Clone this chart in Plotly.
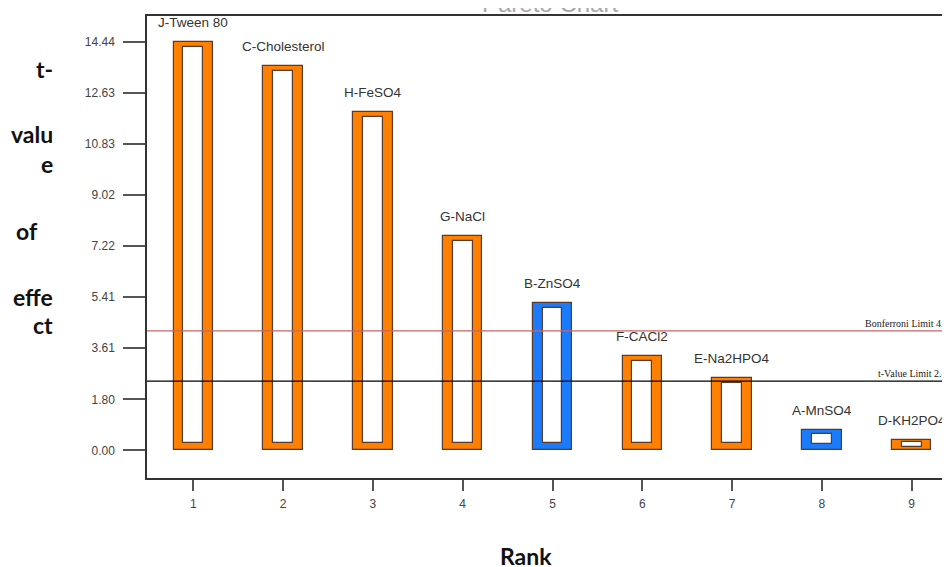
import plotly.graph_objects as go

# ---------------- data ----------------
ranks = [1, 2, 3, 4, 5, 6, 7, 8, 9]
factors = ["J-Tween 80", "C-Cholesterol", "H-FeSO4", "G-NaCl", "B-ZnSO4",
           "F-CACl2", "E-Na2HPO4", "A-MnSO4", "D-KH2PO4"]
t_values = [14.44, 13.59, 11.95, 7.59, 5.22, 3.32, 2.57, 0.73, 0.35]
effect_sign = ["+", "+", "+", "+", "-", "+", "+", "-", "+"]
y_tick_vals = [0.00, 1.80, 3.61, 5.41, 7.22, 9.02, 10.83, 12.63, 14.44]
y_tick_text = ["0.00", "1.80", "3.61", "5.41", "7.22", "9.02", "10.83", "12.63", "14.44"]
bonferroni_limit = 4.22066
t_value_limit = 2.44691
title_text = "Pareto Chart"
y_title_lines = ["t-", "valu", "e", "of", "effe", "ct"]
x_title = "Rank"

# ---------------- styling ----------------
OFF = 8                      # default page body margin of the browser
W, H = 950 - OFF, 567 - OFF
L, R, T, B = 147, 950, 16, 478   # plot frame in page pixels
ORANGE = "#FF8000"
BLUE = "#1A7BFF"
EDGE = "#5A3A2A"
colors = [ORANGE if s == "+" else BLUE for s in effect_sign]

def px_x(px):
    return (px - L) / (R - L)

def px_y(py):
    return (B - py) / (B - T)

# inner white rectangles (style derived from each bar's own value)
inner_lo = [min(0.25, 0.3 * v) for v in t_values]
inner_hi = [v - min(0.18, 0.2 * v) for v in t_values]
inner_h = [h - l for h, l in zip(inner_hi, inner_lo)]

fig = go.Figure()
fig.add_trace(go.Bar(
    x=ranks, y=t_values, width=0.44,
    marker=dict(color=colors, line=dict(color=EDGE, width=1.2)),
    hoverinfo="skip", showlegend=False,
))
fig.add_trace(go.Bar(
    x=ranks, y=inner_h, base=inner_lo, width=0.22,
    marker=dict(color="white", line=dict(color=EDGE, width=1.2)),
    hoverinfo="skip", showlegend=False,
))

annotations = []
for r, v, name in zip(ranks, t_values, factors):
    annotations.append(dict(
        x=r, y=v, xref="x", yref="y", text=name, showarrow=False,
        yanchor="bottom", xanchor="center", yshift=10,
        font=dict(family="Liberation Sans, Arial", size=13.5, color="#333333"),
    ))

# limit lines
fig.add_shape(type="line", xref="paper", yref="y", x0=0, x1=1,
              y0=bonferroni_limit, y1=bonferroni_limit,
              line=dict(color="#C86464", width=1.2))
fig.add_shape(type="line", xref="paper", yref="y", x0=0, x1=1,
              y0=t_value_limit, y1=t_value_limit,
              line=dict(color="#000000", width=1.2))
annotations.append(dict(
    x=px_x(863), y=bonferroni_limit, xref="paper", yref="y",
    text=f"Bonferroni Limit {bonferroni_limit:.5f}", showarrow=False,
    xanchor="left", yanchor="bottom", yshift=0,
    font=dict(family="Liberation Serif, Times New Roman", size=10, color="#222222"),
))
annotations.append(dict(
    x=px_x(876), y=t_value_limit, xref="paper", yref="y",
    text=f"t-Value Limit {t_value_limit:.5f}", showarrow=False,
    xanchor="left", yanchor="bottom", yshift=0,
    font=dict(family="Liberation Serif, Times New Roman", size=10, color="#222222"),
))

# title, mostly cut off by the top edge of the page
annotations.append(dict(
    x=px_x(550), y=px_y(19), xref="paper", yref="paper", text=title_text,
    showarrow=False, xanchor="center", yanchor="bottom",
    font=dict(family="Liberation Sans, Arial", size=24, color="#A8A8A8"),
))

# y-axis title, one line at a time
y_title_pos = [(55, 69), (55, 134), (55, 164), (40, 231), (55, 297), (55, 325)]
for txt, (px, py) in zip(y_title_lines, y_title_pos):
    annotations.append(dict(
        x=px_x(px), y=px_y(py), xref="paper", yref="paper", text=f"<b>{txt}</b>",
        showarrow=False, xanchor="right", yanchor="middle",
        font=dict(family="Lato", size=23, color="#111111"),
    ))

annotations.append(dict(
    x=px_x(526), y=px_y(556), xref="paper", yref="paper", text=f"<b>{x_title}</b>",
    showarrow=False, xanchor="center", yanchor="middle",
    font=dict(family="Lato", size=23, color="#111111"),
))

x0 = 1 - (193.3 - L) / 89.8
x1 = 9 + (R - 911.7) / 89.8
y_scale = (450.3 - 41.7) / 14.44
y0 = -(B - 450.3) / y_scale
y1 = (450.3 - T) / y_scale

fig.update_layout(
    width=W, height=H,
    margin=dict(l=L - OFF, r=950 - R, t=T - OFF, b=567 - B, pad=0),
    paper_bgcolor="white", plot_bgcolor="white",
    barmode="overlay", bargap=0,
    showlegend=False,
    annotations=annotations,
    xaxis=dict(
        range=[x0, x1], tickvals=ranks, ticktext=[str(r) for r in ranks],
        showline=True, mirror=True, linecolor="#333333", linewidth=1.5,
        ticks="outside", ticklen=11, tickwidth=1.5, tickcolor="#555555",
        ticklabelstandoff=3,
        showgrid=False, zeroline=False,
        tickfont=dict(family="Liberation Sans, Arial", size=12, color="#444444"),
    ),
    yaxis=dict(
        range=[y0, y1], tickvals=y_tick_vals, ticktext=y_tick_text,
        showline=True, mirror=False, linecolor="#333333", linewidth=1.5,
        ticks="outside", ticklen=22, tickwidth=1.5, tickcolor="#555555",
        ticklabelstandoff=6,
        showgrid=False, zeroline=False,
        tickfont=dict(family="Liberation Sans, Arial", size=12, color="#444444"),
    ),
)

fig.write_html("out.html")
